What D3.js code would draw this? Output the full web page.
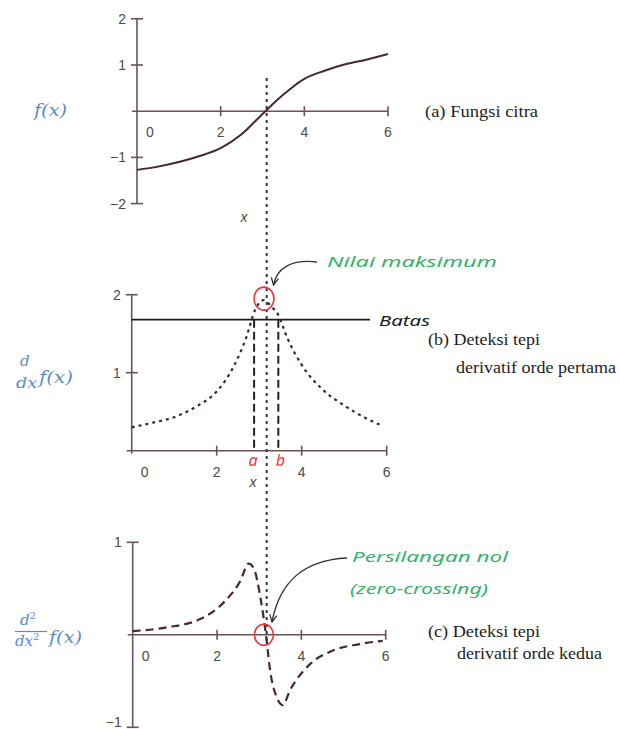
<!DOCTYPE html>
<html><head><meta charset="utf-8">
<script src="https://cdnjs.cloudflare.com/ajax/libs/d3/7.8.5/d3.min.js"></script>
<style>
html,body{margin:0;padding:0;background:#fff;}
svg{display:block;}
</style></head>
<body>
<script>
// ---------- data ----------
const xTicks = [0, 2, 4, 6];
const xTickLabels = ["0", "2", "4", "6"];

// (a) image function f(x)
const fX = [0, 0.5, 1, 1.5, 2, 2.5, 3, 3.5, 4, 4.5, 5, 5.5, 6];
const fY = [-1.27, -1.2, -1.1, -0.97, -0.8, -0.5, -0.06, 0.36, 0.7, 0.88, 1.02, 1.12, 1.24];
const aYTicks = [-2, -1, 1, 2];
const aYTickLabels = ["\u22122", "\u22121", "1", "2"];

// (b) first derivative
const d1X = [0, 0.5, 1, 1.5, 2, 2.4, 2.7, 2.9, 3.1, 3.3, 3.45, 3.65, 4, 4.5, 5, 5.5, 5.85];
const d1Y = [0.3, 0.36, 0.43, 0.56, 0.76, 1.08, 1.46, 1.8, 1.93, 1.84, 1.74, 1.46, 1.1, 0.78, 0.58, 0.42, 0.33];
const bYTicks = [1, 2];
const bYTickLabels = ["1", "2"];
const threshold = 1.68;           // "Batas"
const edgeA = 2.88, edgeB = 3.45; // a, b

// (c) second derivative
const d2X = [0, 0.8, 1.6, 2.2, 2.55, 2.75, 2.87, 3.03, 3.16, 3.26, 3.42, 3.56, 3.73, 4.2, 4.75, 5.38, 5.93];
const d2Y = [0.04, 0.08, 0.17, 0.37, 0.58, 0.77, 0.72, 0.4, 0, -0.39, -0.68, -0.76, -0.6, -0.32, -0.17, -0.1, -0.065];
const cYTicks = [-1, 1];
const cYTickLabels = ["\u22121", "1"];

const edgeX = 3.1; // location of edge (max / zero crossing)

// ---------- drawing ----------
const W = 620, H = 729;
const svg = d3.select("body").append("svg").attr("width", W).attr("height", H);

const axisColor = "#6b525a";
const curveColor = "#4a2533";
const labelColor = "#4a4a4a";
const blue = "#5a8ccb";
const green = "#34b36a";
const red = "#e8383d";
const handFont = "'Noto Sans', 'DejaVu Sans', sans-serif";
const serifFont = "'Liberation Serif', 'DejaVu Serif', serif";
const mathFont = "'DejaVu Serif', 'Liberation Serif', serif";
const tickFont = "'Liberation Sans', Arial, sans-serif";

const defs = svg.append("defs");
defs.append("marker").attr("id", "arr").attr("viewBox", "0 0 10 10")
  .attr("refX", 9).attr("refY", 5).attr("markerWidth", 9).attr("markerHeight", 9)
  .attr("markerUnits", "userSpaceOnUse").attr("orient", "auto")
  .append("path").attr("d", "M1,1 L9,5 L1,9").attr("fill", "none")
  .attr("stroke", "#333").attr("stroke-width", 1.4);

function panel(cfg) {
  const g = svg.append("g");
  const x = d3.scaleLinear().domain([0, 6]).range([cfg.x0, cfg.x6]);
  const y = d3.scaleLinear().domain(cfg.yDom).range(cfg.yRange);
  g.append("line").attr("x1", x(0)).attr("x2", x(0))
    .attr("y1", y(cfg.yDom[0]) + (cfg.yExtra || 0)).attr("y2", y(cfg.yDom[1]))
    .attr("stroke", axisColor).attr("stroke-width", 1.6);
  g.append("line").attr("x1", x(0) - 5).attr("x2", x(6))
    .attr("y1", y(0)).attr("y2", y(0))
    .attr("stroke", axisColor).attr("stroke-width", 1.6);
  xTicks.forEach((t, i) => {
    if (t !== 0) {
      g.append("line").attr("x1", x(t)).attr("x2", x(t))
        .attr("y1", y(0) - 5).attr("y2", y(0) + 5)
        .attr("stroke", axisColor).attr("stroke-width", 1.6);
    }
    g.append("text").attr("x", x(t) + (t === 0 ? 13 : 0)).attr("y", y(0) + 26)
      .attr("text-anchor", "middle").attr("font-family", tickFont)
      .attr("font-size", 14).attr("fill", labelColor).text(xTickLabels[i]);
  });
  cfg.yTicks.forEach((t, i) => {
    g.append("line").attr("x1", x(0) - 6).attr("x2", x(0) + 6)
      .attr("y1", y(t)).attr("y2", y(t))
      .attr("stroke", axisColor).attr("stroke-width", 1.6);
    const yy = Math.min(y(t) + 5, H - 2);
    g.append("text").attr("x", x(0) - 11).attr("y", yy)
      .attr("text-anchor", "end").attr("font-family", tickFont)
      .attr("font-size", 14).attr("fill", labelColor).text(cfg.yTickLabels[i]);
  });
  return { g, x, y };
}

// ---- panel (a)
const A = panel({ x0: 137, x6: 388, yDom: [-2, 2], yRange: [203.6, 18.8], yTicks: aYTicks, yTickLabels: aYTickLabels });
A.g.append("path").datum(fX.map((v, i) => [v, fY[i]]))
  .attr("d", d3.line().x(d => A.x(d[0])).y(d => A.y(d[1])).curve(d3.curveMonotoneX))
  .attr("fill", "none").attr("stroke", curveColor).attr("stroke-width", 2);
svg.append("text").attr("x", 244).attr("y", 222).attr("text-anchor", "middle")
  .attr("font-family", tickFont).attr("font-style", "italic")
  .attr("font-size", 14).attr("fill", labelColor).text("x");

// ---- panel (b)
const B = panel({ x0: 131.7, x6: 386.7, yDom: [0, 2], yRange: [450.7, 294.7], yExtra: 3, yTicks: bYTicks, yTickLabels: bYTickLabels });
B.g.append("line").attr("x1", B.x(0)).attr("x2", 370)
  .attr("y1", B.y(threshold)).attr("y2", B.y(threshold))
  .attr("stroke", "#1c1c1c").attr("stroke-width", 1.6);
[edgeA, edgeB].forEach(e => {
  B.g.append("line").attr("x1", B.x(e)).attr("x2", B.x(e))
    .attr("y1", B.y(threshold)).attr("y2", B.y(0))
    .attr("stroke", "#222").attr("stroke-width", 2).attr("stroke-dasharray", "8,4");
});
B.g.append("path").datum(d1X.map((v, i) => [v, d1Y[i]]))
  .attr("d", d3.line().x(d => B.x(d[0])).y(d => B.y(d[1])).curve(d3.curveMonotoneX))
  .attr("fill", "none").attr("stroke", "#3a2a30").attr("stroke-width", 2.2)
  .attr("stroke-dasharray", "3,4");
svg.append("text").attr("x", 253).attr("y", 487).attr("text-anchor", "middle")
  .attr("font-family", tickFont).attr("font-style", "italic")
  .attr("font-size", 14).attr("fill", labelColor).text("x");
svg.append("text").attr("x", B.x(edgeA) - 1).attr("y", 466).attr("text-anchor", "middle")
  .attr("font-family", handFont).attr("font-style", "italic").attr("font-size", 16)
  .attr("fill", red).text("a");
svg.append("text").attr("x", B.x(edgeB) + 2).attr("y", 466).attr("text-anchor", "middle")
  .attr("font-family", handFont).attr("font-style", "italic").attr("font-size", 16)
  .attr("fill", red).text("b");

// ---- panel (c)
const C = panel({ x0: 132.7, x6: 385.7, yDom: [-1, 1], yRange: [727.3, 542.3], yTicks: cYTicks, yTickLabels: cYTickLabels });
C.g.append("path").datum(d2X.map((v, i) => [v, d2Y[i]]))
  .attr("d", d3.line().x(d => C.x(d[0])).y(d => C.y(d[1])).curve(d3.curveMonotoneX))
  .attr("fill", "none").attr("stroke", curveColor).attr("stroke-width", 2.2)
  .attr("stroke-dasharray", "8,5");

// ---- vertical dotted line through all panels
svg.append("line").attr("x1", A.x(edgeX)).attr("x2", A.x(edgeX))
  .attr("y1", 78).attr("y2", 645)
  .attr("stroke", "#333").attr("stroke-width", 2).attr("stroke-dasharray", "3,4");

// ---- red circles
svg.append("ellipse").attr("cx", B.x(edgeX) + 0.5).attr("cy", B.y(1.95))
  .attr("rx", 10).attr("ry", 11.5).attr("fill", "none").attr("stroke", red).attr("stroke-width", 1.6);
svg.append("ellipse").attr("cx", C.x(edgeX) + 0.5).attr("cy", C.y(0))
  .attr("rx", 9.5).attr("ry", 10.5).attr("fill", "none").attr("stroke", red).attr("stroke-width", 1.6);

// ---- arrows
svg.append("path").attr("d", "M317,262 C293,259 277,267 273.5,285")
  .attr("fill", "none").attr("stroke", "#333").attr("stroke-width", 1.4).attr("marker-end", "url(#arr)");
svg.append("path").attr("d", "M347,558 C305,560 280,580 272,622")
  .attr("fill", "none").attr("stroke", "#333").attr("stroke-width", 1.4).attr("marker-end", "url(#arr)");

// ---- handwritten notes
function hand(txt, x, y, len, col, size) {
  svg.append("text").attr("x", x).attr("y", y).attr("font-family", handFont)
    .attr("font-style", "italic").attr("font-size", size || 15).attr("fill", col)
    .attr("textLength", len).attr("lengthAdjust", "spacingAndGlyphs").text(txt);
}
hand("Nilai maksimum", 327, 267, 170, green);
hand("Batas", 379, 326, 51, "#1c1c1c", 15);
hand("Persilangan nol", 352, 562, 156, green);
hand("(zero-crossing)", 350, 594, 138, green);

// ---- serif captions
function cap(txt, x, y, len) {
  svg.append("text").attr("x", x).attr("y", y).attr("font-family", serifFont)
    .attr("font-size", 16).attr("fill", "#1e1e1e")
    .attr("textLength", len).attr("lengthAdjust", "spacingAndGlyphs").text(txt);
}
cap("(a) Fungsi citra", 425, 117, 113);
cap("(b) Deteksi tepi", 428, 345, 112);
cap("derivatif orde pertama", 456, 373, 160);
cap("(c) Deteksi tepi", 428, 637, 112);
cap("derivatif orde kedua", 457, 659, 145);

// ---- blue y-axis labels
function math(txt, x, y, size, len) {
  const t = svg.append("text").attr("x", x).attr("y", y).attr("font-family", mathFont)
    .attr("font-style", "italic").attr("font-size", size).attr("fill", blue).text(txt);
  if (len) t.attr("textLength", len).attr("lengthAdjust", "spacingAndGlyphs");
  return t;
}
math("f(x)", 34, 116, 16, 33);
math("d", 20, 366, 15);
math("dx", 16, 388, 15, 21);
math("f(x)", 39, 383, 16, 34);
const num = math("d", 20, 625, 15);
num.append("tspan").attr("font-style", "normal").attr("font-size", 10).attr("dy", -6).text("2");
svg.append("line").attr("x1", 15).attr("x2", 47).attr("y1", 631.5).attr("y2", 631.5)
  .attr("stroke", blue).attr("stroke-width", 1.2);
const den = math("dx", 15, 646, 15);
den.append("tspan").attr("font-style", "normal").attr("font-size", 10).attr("dy", -6).text("2");
math("f(x)", 49, 643, 16, 33);
</script>
</body></html>
